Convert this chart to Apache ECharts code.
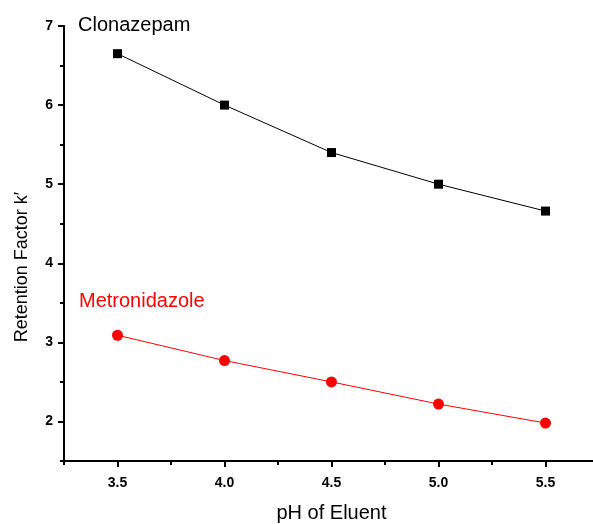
<!DOCTYPE html>
<html>
<head>
<meta charset="utf-8">
<script src="https://cdn.jsdelivr.net/npm/echarts@6/dist/echarts.min.js"></script>
<style>
html,body{margin:0;padding:0;background:#fff;}
#chart{width:593px;height:524px;}
</style>
</head>
<body>
<div id="chart"></div>
<script>
const phValues = [3.5, 4.0, 4.5, 5.0, 5.5];
const clonazepam = [6.65, 6.0, 5.40, 5.0, 4.66];
const metronidazole = [3.09, 2.77, 2.50, 2.22, 1.98];
const xTickLabels = [3.5, 4.0, 4.5, 5.0, 5.5];
const xMinorTicks = [3.25, 3.75, 4.25, 4.75, 5.25, 5.75];
const yTickLabels = [2, 3, 4, 5, 6, 7];
const yMinorTicks = [1.5, 2.5, 3.5, 4.5, 5.5, 6.5];
const xName = 'pH of Eluent';
const yName = 'Retention Factor k\u2032';
const seriesNames = ['Clonazepam', 'Metronidazole'];

const FONT = 'Liberation Sans, Arial, Helvetica, sans-serif';
const chart = echarts.init(document.getElementById('chart'));

const xRange = {min: 3.25, max: 5.75};
const yRange = {min: 1.5, max: 7};
function lineOpt() { return {show: true, onZero: false, lineStyle: {color: '#000', width: 2}}; }
function tickOpt(vals, len) { return {show: true, inside: false, length: len, customValues: vals, lineStyle: {color: '#000', width: 2}}; }

const option = {
  animation: false,
  grid: {left: 64, width: 535, top: 26, height: 435, outerBoundsMode: 'none'},
  xAxis: [
    {
      type: 'value', min: xRange.min, max: xRange.max, position: 'bottom',
      name: xName, nameLocation: 'middle', nameGap: 42,
      nameTextStyle: {fontFamily: FONT, fontSize: 20, color: '#000'},
      axisLine: lineOpt(),
      axisTick: tickOpt(xTickLabels, 6),
      axisLabel: {show: true, customValues: xTickLabels, margin: 15, fontFamily: FONT, fontSize: 14, fontWeight: 'bold', color: '#000',
        formatter: v => Number(v).toFixed(1)},
      splitLine: {show: false}
    },
    {
      type: 'value', min: xRange.min, max: xRange.max, position: 'bottom',
      axisLine: lineOpt(),
      axisTick: tickOpt(xMinorTicks, 4),
      axisLabel: {show: false},
      splitLine: {show: false}
    }
  ],
  yAxis: [
    {
      type: 'value', min: yRange.min, max: yRange.max, position: 'left',
      axisLine: lineOpt(),
      axisTick: tickOpt(yTickLabels, 6),
      axisLabel: {show: true, customValues: yTickLabels, margin: 11, fontFamily: FONT, fontSize: 14, fontWeight: 'bold', color: '#000'},
      splitLine: {show: false}
    },
    {
      type: 'value', min: yRange.min, max: yRange.max, position: 'left',
      axisLine: lineOpt(),
      axisTick: tickOpt(yMinorTicks, 4),
      axisLabel: {show: false},
      splitLine: {show: false}
    }
  ],
  series: [
    {
      name: seriesNames[0], type: 'line', xAxisIndex: 0, yAxisIndex: 0, clip: false,
      data: phValues.map((x, i) => [x, clonazepam[i]]),
      symbol: 'rect', symbolSize: 9,
      lineStyle: {color: '#000', width: 1},
      itemStyle: {color: '#000'},
      markLine: {
        silent: true, symbol: ['none', 'none'], animation: false,
        label: {show: false},
        lineStyle: {color: '#000', width: 2, type: 'solid'},
        emphasis: {disabled: true},
        data: [{xAxis: xRange.min}, {yAxis: yRange.min}]
      }
    },
    {
      name: seriesNames[1], type: 'line', xAxisIndex: 0, yAxisIndex: 0,
      data: phValues.map((x, i) => [x, metronidazole[i]]),
      symbol: 'circle', symbolSize: 11,
      lineStyle: {color: '#ff0000', width: 1},
      itemStyle: {color: '#ff0000'}
    }
  ],
  graphic: [
    {type: 'text', left: 78, top: 15, style: {text: seriesNames[0], fontFamily: FONT, fontSize: 20, fill: '#000'}},
    {type: 'text', left: 79, top: 291, style: {text: seriesNames[1], fontFamily: FONT, fontSize: 20, fill: '#ff0000'}},
    {type: 'text', x: 22, y: 267, rotation: Math.PI / 2,
      style: {text: yName, fontFamily: FONT, fontSize: 18, fill: '#000', align: 'center', verticalAlign: 'middle'}}
  ]
};
chart.setOption(option);
</script>
</body>
</html>
